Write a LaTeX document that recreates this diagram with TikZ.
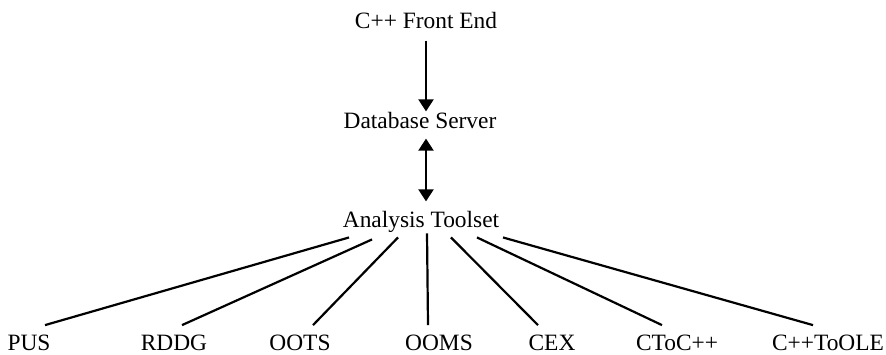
\documentclass[tikz,border=0pt]{standalone}
\usepackage{fontspec}
\setmainfont{Liberation Serif}
\usetikzlibrary{arrows.meta}

\begin{document}
\begin{tikzpicture}[x=0.5pt,y=-0.5pt]
\tikzstyle{every node}+=[inner sep=0pt, anchor=base, font=\fontsize{11.7}{14}\selectfont]
\tikzstyle{link}=[black, line width=1.1pt]
\tikzset{>={Triangle[width=7.5pt,length=6pt]}}
\useasboundingbox (0,0) rectangle (886,354);
% tool chain
\node (front) at (426,28) {C++ Front End};
\node (db) at (420,128) {Database Server};
\node (tool) at (421,227) {Analysis Toolset};
% analyses
\node (pus) at (29,350) {PUS};
\node (rddg) at (174,350) {RDDG};
\node (oots) at (300,350) {OOTS};
\node (ooms) at (439,350) {OOMS};
\node (cex) at (552,350) {CEX};
\node (ctocpp) at (677,350) {CToC++};
\node (cpptoole) at (828,350) {C++ToOLE};
\draw [link, ->, shorten <=6pt] (front.south) -- (front.south |- db.north);
\draw [link, <->, shorten <=5pt, shorten >=4.5pt] (db.south -| front.south) -- (tool.north -| front.south);
\foreach \n/\dx/\dy/\ex in {pus/-72/5/16, rddg/-49/7/8, oots/-23/5/13, ooms/6/1/-11,
  cex/30/5/-14, ctocpp/56/5/-15, cpptoole/82/5/-15}
  \draw [link] ([shift={(\dx,\dy)}]tool.south) -- ([shift={(\ex,-9)}]\n.north);
\end{tikzpicture}
\end{document}
